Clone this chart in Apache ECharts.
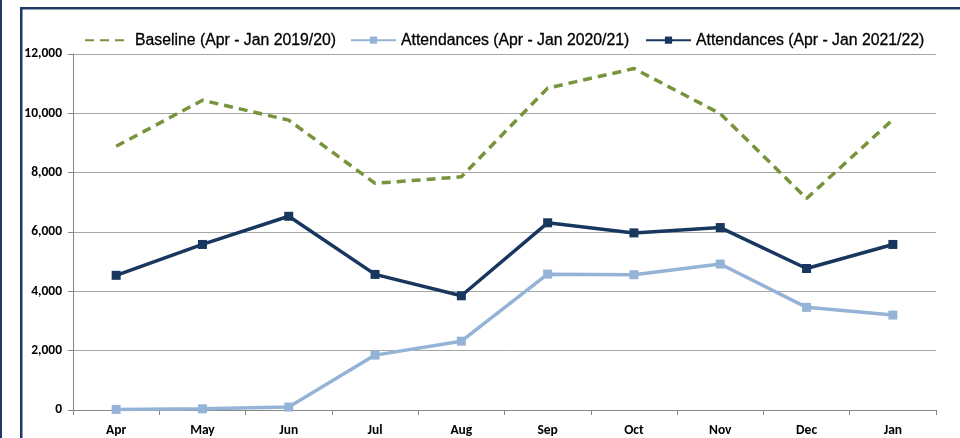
<!DOCTYPE html>
<html><head><meta charset="utf-8">
<script src="https://cdn.jsdelivr.net/npm/echarts@6/dist/echarts.min.js"></script>
<style>html,body{margin:0;padding:0;background:#fff}#c{width:960px;height:438px}</style>
</head><body><div id="c"></div>
<script>
const categories = ['Apr','May','Jun','Jul','Aug','Sep','Oct','Nov','Dec','Jan'];
const baseline = [8890, 10440, 9770, 7640, 7860, 10850, 11510, 9990, 7130, 9790];
const att2021 = [20, 40, 100, 1850, 2320, 4580, 4560, 4920, 3460, 3200];
const att2122 = [4540, 5580, 6530, 4570, 3850, 6310, 5970, 6150, 4770, 5580];
const seriesNames = ['Baseline (Apr - Jan 2019/20)', 'Attendances (Apr - Jan 2020/21)', 'Attendances (Apr - Jan 2021/22)'];
const yTicks = [0, 2000, 4000, 6000, 8000, 10000, 12000];

const chart = echarts.init(document.getElementById('c'));
const legFont = '"Liberation Sans Narrow", "Arial Narrow", "Liberation Sans", Arial, sans-serif';
const lab = 'Carlito, Calibri, Lato, "Liberation Sans", sans-serif';
const legendBase = {
  top: 27, itemWidth: 45, itemHeight: 9,
  textStyle: {fontFamily: legFont, fontSize: 15.8, color: '#000', textBorderColor: '#000', textBorderWidth: 0.3}
};
chart.setOption({
  animation: false,
  graphic: [
    {type:'rect', shape:{x:0,y:0,width:2,height:438}, style:{fill:'#1F3864'}},
    {type:'rect', shape:{x:20,y:7,width:940,height:2.5}, style:{fill:'#1F3864'}},
    {type:'rect', shape:{x:20,y:7,width:2.5,height:431}, style:{fill:'#1F3864'}}
  ],
  legend: [
    Object.assign({left: 79, data: [{name: seriesNames[0], itemStyle: {opacity: 0}}]}, legendBase),
    Object.assign({left: 345, data: [seriesNames[1]]}, legendBase),
    Object.assign({left: 640, data: [seriesNames[2]]}, legendBase)
  ],
  grid: {left: 73, right: 24, top: 54, bottom: 28, containLabel: false},
  xAxis: {
    type: 'category', data: categories, boundaryGap: true,
    axisLine: {lineStyle: {color: '#868686', width: 1}},
    axisTick: {show: true, length: 5, lineStyle: {color: '#868686'}},
    axisLabel: {margin: 14, fontFamily: lab, fontWeight: 'bold', fontSize: 13.5, color: '#000'}
  },
  yAxis: {
    type: 'value', min: yTicks[0], max: yTicks[yTicks.length-1], interval: 2000,
    axisLine: {show: true, lineStyle: {color: '#868686', width: 1}},
    axisTick: {show: true, length: 5, lineStyle: {color: '#868686'}},
    splitLine: {lineStyle: {color: '#A6A6A6', width: 1}},
    axisLabel: {margin: 11, fontFamily: lab, fontWeight: 'bold', fontSize: 13.5, color: '#000',
      formatter: v => v.toLocaleString('en-US')}
  },
  series: [
    {name: seriesNames[0], type: 'line', data: baseline, symbol: 'none',
     lineStyle: {color: '#77933C', width: 3.5, type: [9, 6]}, itemStyle: {color: '#77933C'}},
    {name: seriesNames[1], type: 'line', data: att2021, symbol: 'rect', symbolSize: 9,
     lineStyle: {color: '#95B3D7', width: 3.5}, itemStyle: {color: '#95B3D7'}},
    {name: seriesNames[2], type: 'line', data: att2122, symbol: 'rect', symbolSize: 9,
     lineStyle: {color: '#17375E', width: 3.5}, itemStyle: {color: '#17375E'}}
  ]
});
</script></body></html>
